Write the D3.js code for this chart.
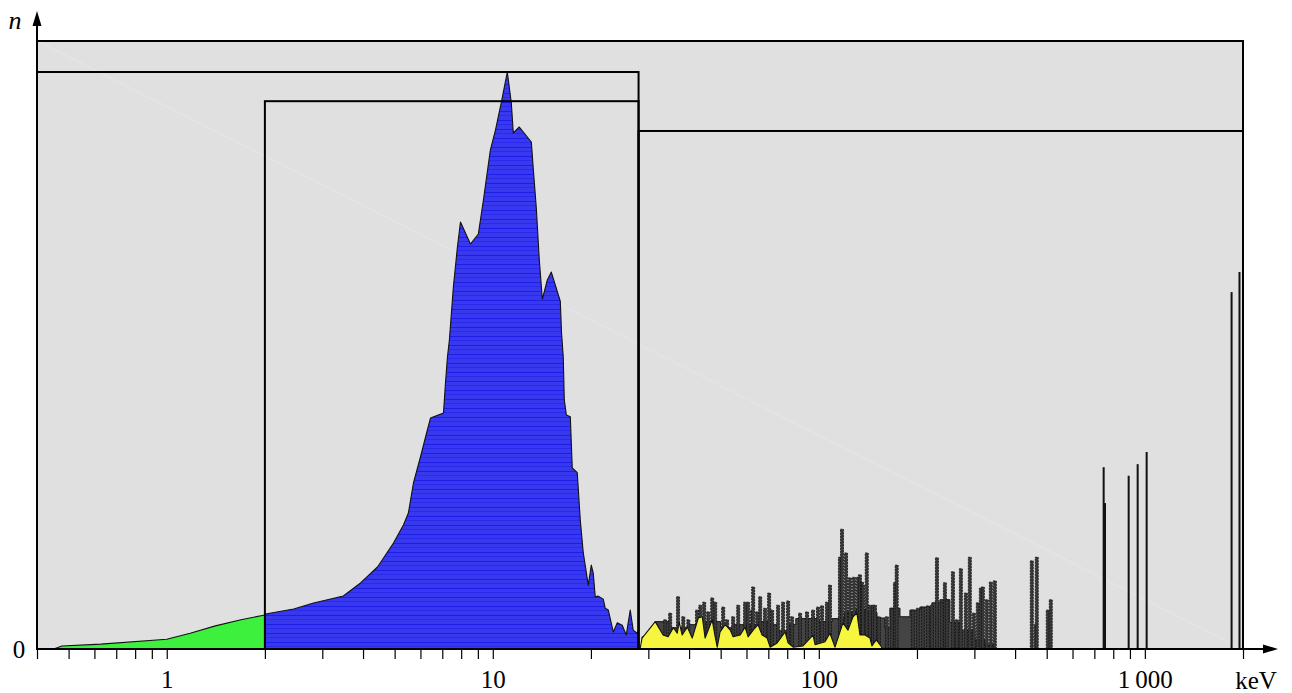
<!DOCTYPE html>
<html>
<head>
<meta charset="utf-8">
<script src="https://cdn.jsdelivr.net/npm/d3@7/dist/d3.min.js"></script>
<style>
  body { margin: 0; background: #fff; }
  svg { display: block; }
  text { font-family: "Liberation Serif", "DejaVu Serif", serif; fill: #000; }
</style>
</head>
<body>
<div id="chart"></div>
<script>
// energy (keV) , count n (0..100 = top of outer box)
const greenBand = [[0.45, 0], [0.477, 0.5], [0.628, 0.8], [1.0, 1.6], [1.18, 2.6], [1.41, 3.8], [1.69, 4.8], [2.0, 5.6]];

const blueBand = [[2.0, 5.6], [2.01, 5.76], [2.45, 6.58], [2.82, 7.57], [3.48, 8.72], [3.93, 10.86], [4.43, 13.49],
  [4.96, 17.43], [5.32, 20.39], [5.51, 22.37], [5.71, 27.3], [6.0, 31.58], [6.22, 34.87], [6.44, 37.99],
  [7.06, 38.82], [7.16, 43.75], [7.26, 48.03], [7.36, 50.82], [7.57, 59.54], [7.79, 66.12], [7.96, 70.23],
  [8.54, 66.61], [9.03, 68.26], [9.36, 73.85], [9.83, 82.07], [10.19, 85.36], [10.63, 89.97], [11.08, 94.9],
  [11.4, 89.8], [11.56, 84.87], [12.06, 85.86], [13.13, 83.39], [13.32, 78.78], [13.6, 72.53], [13.89, 63.98],
  [14.19, 57.56], [14.7, 60.69], [15.12, 62.0], [16.11, 57.2], [16.25, 52.0], [16.45, 48.0], [16.57, 41.0],
  [16.81, 38.5], [17.29, 38.2], [17.53, 29.8], [18.16, 29.0], [18.55, 21.2], [18.95, 15.8], [19.63, 10.5],
  [20.05, 13.8], [20.33, 12.5], [20.62, 8.6], [21.06, 8.7], [21.82, 8.2], [22.13, 6.7], [22.61, 6.4],
  [23.42, 2.8], [24.08, 4.3], [24.95, 3.9], [25.66, 2.3], [26.4, 6.4], [26.96, 3.1], [27.73, 2.6], [28.0, 3.1]];

const yellowBand = [[28.3, 0], [28.7, 1.8], [31.5, 4.5], [33.3, 2.3], [34.5, 2.0], [35.8, 3.5], [36.8, 2.6],
  [37.3, 4.4], [38.1, 2.3], [39.5, 3.6], [40.9, 1.8], [42.7, 5.1], [43.9, 5.3], [44.8, 1.8], [45.8, 3.1],
  [47.1, 4.8], [48.1, 2.0], [48.8, 0.3], [49.8, 2.8], [51.6, 4.0], [53.5, 3.1], [54.6, 2.0], [57.4, 2.3],
  [59.4, 3.6], [60.7, 2.0], [62.9, 3.1], [65.1, 4.0], [67.0, 2.3], [69.4, 1.8], [70.9, 0.3], [74.5, 1.0],
  [78.8, 2.8], [80.5, 1.0], [83.4, 0.3], [89.4, 0.5], [96.0, 2.3], [97.4, 0.7], [104.5, 1.2], [108.2, 2.6],
  [112.1, 0.3], [118.6, 4.3], [122.9, 3.1], [127.3, 5.3], [130.9, 5.9], [133.7, 2.3], [138.5, 2.3],
  [143.5, 1.8], [145.5, 0.5], [150, 1.5], [155, 0.5], [157, 0]];

const darkBase = [[28.3, 0], [28.7, 2.0], [31.5, 4.5], [35, 3.5], [40, 4.0], [45, 4.5], [50, 3.5], [55, 4.0],
  [60, 4.0], [65, 4.5], [70, 4.0], [75, 3.0], [80, 4.0], [85, 5.0], [90, 5.0], [100, 4.5], [110, 5.0],
  [120, 6.0], [130, 6.5], [140, 6.0], [150.8, 5.1], [159.5, 3.5], [165.2, 6.7], [177.4, 5.3], [190.3, 6.4],
  [204.2, 6.9], [222.3, 7.6], [235.2, 8.1], [252.4, 4.4], [270.8, 3.1], [301.0, 1.5], [323.0, 0.7], [347, 0]];

const darkSpikes = [[33.8, 4.8], [35.0, 5.9], [37.0, 8.6], [38.4, 5.3], [39.8, 4.8], [42.3, 6.4], [43.3, 7.2],
  [44.5, 7.7], [45.8, 6.1], [47.1, 8.4], [48.1, 7.7], [50.9, 6.9], [52.3, 4.8], [54.6, 5.3], [56.6, 7.2],
  [59.4, 7.7], [60.7, 7.7], [62.4, 6.4], [62.9, 10.2], [64.7, 6.1], [66.1, 8.6], [68.4, 6.7], [70.4, 9.2],
  [71.9, 6.4], [75.0, 7.2], [77.7, 7.7], [80.5, 7.9], [82.8, 5.3], [87.6, 5.9], [92.0, 6.1], [96.0, 6.4],
  [99.4, 6.9], [102.3, 7.1], [105.9, 7.7], [108.2, 10.5], [116.1, 15.1], [117.8, 19.7], [121.2, 15.8],
  [124.6, 11.7], [128.2, 11.8], [131.9, 11.8], [133.7, 12.2], [135.6, 11.0], [136.6, 10.5], [140.3, 15.8],
  [143.5, 7.2], [146.6, 7.2], [148.7, 7.2], [152.9, 5.3], [161.8, 5.3], [167.6, 6.7], [171.2, 10.9],
  [173.3, 13.8], [194.3, 6.4], [201.3, 6.7], [208.5, 6.9], [216.1, 7.1], [222.3, 7.2], [230.3, 15.0],
  [238.5, 7.7], [243.6, 10.9], [247.1, 8.1], [257.8, 12.7], [265.1, 4.8], [272.7, 13.2], [282.5, 9.2],
  [290.5, 15.1], [298.9, 5.9], [307.4, 7.6], [314.0, 10.0], [318.5, 10.2], [327.6, 8.1], [337.0, 11.0],
  [346.6, 11.2], [450.1, 14.5], [462.9, 4.0], [466.1, 15.1], [503.8, 6.4], [514.6, 8.1]];

const gammaLines = [[747.6, 29.9], [754.6, 24.0], [892, 28.5], [950.5, 30.4], [1012.8, 32.4], [1845, 58.7], [1951, 62.0]];

// nested range boxes: [from keV, to keV, top n]
const boxes = [[0.4, 2000, 100], [0.4, 28, 94.9], [2, 28, 90.1], [28, 2000, 85.2]];

const tickVals = [0.4, 0.5, 0.6, 0.7, 0.8, 0.9, 1, 2, 3, 4, 5, 6, 7, 8, 9, 10, 20, 30, 40, 50, 60, 70, 80, 90,
  100, 200, 300, 400, 500, 600, 700, 800, 900, 1000, 2000];
const tickLabels = { 1: "1", 10: "10", 100: "100", 1000: "1\u2009000" };

const W = 1292, H = 693;
const x = d3.scaleLog().domain([0.4, 2000]).range([37, 1243]);
const y = d3.scaleLinear().domain([0, 100]).range([649, 41]);

const svg = d3.select("#chart").append("svg")
  .attr("width", W)
  .attr("height", H);

// blue fill with faint horizontal streaks, like the original raster
const defs = svg.append("defs");
const pat = defs.append("pattern").attr("id", "blueStreaks")
  .attr("patternUnits", "userSpaceOnUse")
  .attr("width", 40).attr("height", 9);
pat.append("rect").attr("width", 40).attr("height", 9).attr("fill", "#3838ef");
pat.append("rect").attr("y", 3).attr("width", 40).attr("height", 1).attr("fill", "#1c1ceb");
pat.append("rect").attr("y", 7).attr("width", 40).attr("height", 1).attr("fill", "#2a2aed");

// grey background of the outer box
const outer = boxes[0];
svg.append("rect")
  .attr("x", x(outer[0])).attr("y", y(outer[2]))
  .attr("width", x(outer[1]) - x(outer[0]))
  .attr("height", y(0) - y(outer[2]))
  .attr("fill", "#e0e0e0");

// faint diagonal
svg.append("line")
  .attr("x1", x(outer[0])).attr("y1", y(outer[2]))
  .attr("x2", x(outer[1])).attr("y2", y(0))
  .attr("stroke", "#e7e7e7").attr("stroke-width", 1);

const area = curve => d3.area().x(d => x(d[0])).y0(y(0)).y1(d => y(d[1])).curve(curve);
const line = curve => d3.line().x(d => x(d[0])).y(d => y(d[1])).curve(curve);

// dark noisy background spectrum
svg.append("path").datum(darkBase)
  .attr("d", area(d3.curveStepAfter))
  .attr("fill", "#444");
svg.append("path").datum(darkBase)
  .attr("d", line(d3.curveStepAfter))
  .attr("fill", "none").attr("stroke", "#111").attr("stroke-width", 1);

svg.selectAll(".spike")
  .data(darkSpikes)
  .enter().append("rect")
  .attr("class", "spike")
  .attr("x", d => x(d[0]) - 1.5)
  .attr("width", 3)
  .attr("y", d => y(d[1]))
  .attr("height", d => y(0) - y(d[1]))
  .attr("fill", "#383838")
  .attr("stroke", "#111")
  .attr("stroke-width", 0.8)
  .attr("stroke-dasharray", "2,1");

svg.selectAll(".gamma")
  .data(gammaLines)
  .enter().append("rect")
  .attr("class", "gamma")
  .attr("x", d => x(d[0]) - 1)
  .attr("width", 2)
  .attr("y", d => y(d[1]))
  .attr("height", d => y(0) - y(d[1]))
  .attr("fill", "#111");

// coloured bands
const bands = [
  { data: yellowBand, fill: "#f6f640" },
  { data: greenBand, fill: "#3ef03e" },
  { data: blueBand, fill: "url(#blueStreaks)" }
];
bands.forEach(b => {
  svg.append("path").datum(b.data)
    .attr("d", area(d3.curveLinear))
    .attr("fill", b.fill);
  svg.append("path").datum(b.data)
    .attr("d", line(d3.curveLinear))
    .attr("fill", "none")
    .attr("stroke", "#111")
    .attr("stroke-width", 1.1)
    .attr("stroke-linejoin", "round");
});

// box outlines on top
svg.selectAll(".box")
  .data(boxes)
  .enter().append("rect")
  .attr("class", "box")
  .attr("x", d => x(d[0]))
  .attr("y", d => y(d[2]))
  .attr("width", d => x(d[1]) - x(d[0]))
  .attr("height", d => y(0) - y(d[2]))
  .attr("fill", "none")
  .attr("stroke", "#000")
  .attr("stroke-width", 2);

// x axis
const xAxis = d3.axisBottom(x)
  .tickValues(tickVals)
  .tickSize(10)
  .tickPadding(11)
  .tickFormat(d => tickLabels[d] || "");

const gx = svg.append("g")
  .attr("transform", `translate(0,${y(0)})`)
  .call(xAxis);
gx.select(".domain").remove();
gx.selectAll(".tick line").attr("stroke", "#000").attr("stroke-width", 1.2);
gx.selectAll(".tick text")
  .style("font-family", "'Liberation Serif', serif")
  .style("font-size", "25px")
  .attr("fill", "#000");

svg.append("line")
  .attr("x1", x(0.4)).attr("x2", 1266)
  .attr("y1", y(0)).attr("y2", y(0))
  .attr("stroke", "#000").attr("stroke-width", 2);
svg.append("path")
  .attr("d", `M1278,${y(0)} L1263,${y(0) - 4.5} L1263,${y(0) + 4.5} Z`)
  .attr("fill", "#000");

// y axis
svg.append("line")
  .attr("x1", x(0.4)).attr("x2", x(0.4))
  .attr("y1", y(0)).attr("y2", 22)
  .attr("stroke", "#000").attr("stroke-width", 2);
svg.append("path")
  .attr("d", `M${x(0.4)},11 L${x(0.4) - 4.5},26 L${x(0.4) + 4.5},26 Z`)
  .attr("fill", "#000");

svg.append("text")
  .attr("x", 19).attr("y", y(0) + 9)
  .attr("text-anchor", "middle")
  .style("font-size", "25px")
  .text("0");

svg.append("text")
  .attr("x", 15).attr("y", 29)
  .attr("text-anchor", "middle")
  .style("font-size", "26px")
  .style("font-style", "italic")
  .text("n");

svg.append("text")
  .attr("x", 1256).attr("y", 689)
  .attr("text-anchor", "middle")
  .style("font-size", "25px")
  .text("keV");
</script>
</body>
</html>
